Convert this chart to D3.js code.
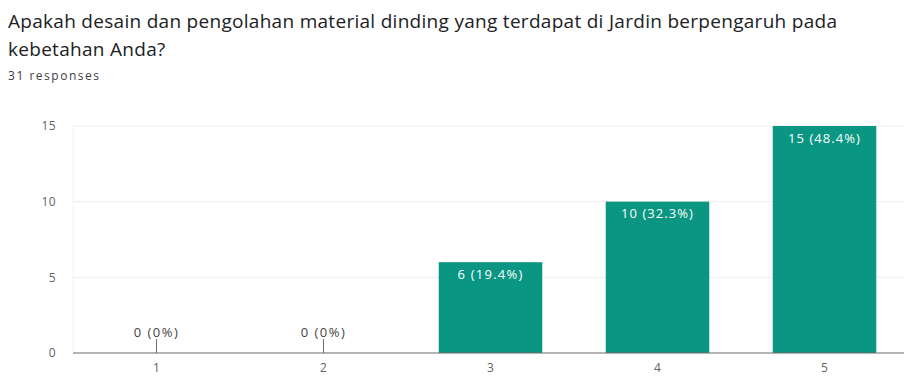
<!DOCTYPE html>
<html>
<head>
<meta charset="utf-8">
<script src="https://cdn.jsdelivr.net/npm/d3@7"></script>
<style>
  html, body { margin: 0; padding: 0; background: #fff; }
  svg { display: block; }
</style>
</head>
<body>
<svg id="chart" width="904" height="378"></svg>
<script>
// Survey answers on a 1–5 scale
const categories = ["1", "2", "3", "4", "5"];
const counts = [0, 0, 6, 10, 15];
const totalResponses = 31;
const yTicks = [0, 5, 10, 15];

const titleLines = [
  "Apakah desain dan pengolahan material dinding yang terdapat di Jardin berpengaruh pada",
  "kebetahan Anda?"
];
const subtitle = totalResponses + " responses";

const W = 904, H = 378;
const margin = { top: 126, right: -4, bottom: 25, left: 73 };
const fontFamily = "'Open Sans', Roboto, sans-serif";

const svg = d3.select("#chart");

// Letter spacing that makes a text run fill the given width
function spreadTo(sel, width) {
  const node = sel.node();
  const n = node.getNumberOfChars();
  const w = node.getComputedTextLength();
  return Math.max(0, (width - w) / Math.max(1, n - 1));
}

// Heading
const titleText = svg.append("g").selectAll("text")
  .data(titleLines)
  .join("text")
  .attr("x", 8)
  .attr("y", (d, i) => 27.5 + i * 28)
  .attr("font-family", fontFamily)
  .attr("font-size", 19)
  .attr("fill", "#202124")
  .text(d => d);
titleText.attr("letter-spacing", spreadTo(titleText.filter((d, i) => i === 0), 829));

const sub = svg.append("text")
  .attr("x", 8)
  .attr("y", 80)
  .attr("font-family", fontFamily)
  .attr("font-size", 12)
  .attr("fill", "#3c4043")
  .text(subtitle);
sub.attr("letter-spacing", spreadTo(sub, 91));

const x = d3.scaleBand()
  .domain(categories)
  .range([margin.left, W - margin.right])
  .paddingInner(0.38)
  .paddingOuter(0.19);

const y = d3.scaleLinear()
  .domain([0, 15])
  .range([H - margin.bottom, margin.top]);

// Horizontal gridlines
svg.append("g")
  .selectAll("line")
  .data(yTicks.filter(t => t > 0))
  .join("line")
  .attr("x1", margin.left)
  .attr("x2", W)
  .attr("y1", d => y(d))
  .attr("y2", d => y(d))
  .attr("stroke", "#ececec")
  .attr("stroke-width", 1);

// Faint left edge of the plot area
svg.append("line")
  .attr("x1", margin.left).attr("x2", margin.left)
  .attr("y1", y(15)).attr("y2", y(0))
  .attr("stroke", "#f2f2f2");

// Y axis labels
const yAxis = d3.axisLeft(y).tickValues(yTicks).tickSize(0).tickPadding(17);
const gy = svg.append("g")
  .attr("transform", `translate(${margin.left},0)`)
  .call(yAxis);
gy.select(".domain").remove();
gy.selectAll("text")
  .attr("font-family", fontFamily)
  .attr("font-size", 12)
  .attr("letter-spacing", 0.4)
  .attr("fill", "#5f6368");

// Bars
svg.append("g")
  .selectAll("rect")
  .data(categories.map((c, i) => ({ c, v: counts[i] })))
  .join("rect")
  .attr("x", d => x(d.c))
  .attr("width", x.bandwidth())
  .attr("y", d => y(d.v))
  .attr("height", d => y(0) - y(d.v))
  .attr("fill", "#0a9683");

// Baseline
svg.append("line")
  .attr("x1", margin.left).attr("x2", W)
  .attr("y1", y(0)).attr("y2", y(0))
  .attr("stroke", "#6b6b6b")
  .attr("stroke-width", 1.2);

// X axis labels
const xAxis = d3.axisBottom(x).tickSize(0).tickPadding(10);
const gx = svg.append("g")
  .attr("transform", `translate(0,${y(0)})`)
  .call(xAxis);
gx.select(".domain").remove();
gx.selectAll("text")
  .attr("font-family", fontFamily)
  .attr("font-size", 12)
  .attr("fill", "#5f6368");

// Value labels: inside the bar top, or above a stub for empty answers
const fmtPct = v => {
  const p = v / totalResponses * 100;
  return (v === 0 ? "0" : p.toFixed(1)) + "%";
};
const labels = svg.append("g");
categories.forEach((c, i) => {
  const v = counts[i];
  const cx = x(c) + x.bandwidth() / 2;
  const txt = `${v} (${fmtPct(v)})`;
  if (v === 0) {
    labels.append("line")
      .attr("x1", cx).attr("x2", cx)
      .attr("y1", y(0) - 14).attr("y2", y(0))
      .attr("stroke", "#6b6b6b");
    const t = labels.append("text")
      .attr("x", cx).attr("y", y(0) - 16)
      .attr("text-anchor", "middle")
      .attr("font-family", fontFamily)
      .attr("font-size", 13)
      .attr("fill", "#444")
      .text(txt);
    t.attr("letter-spacing", spreadTo(t, 44));
  } else {
    const t = labels.append("text")
      .attr("x", cx).attr("y", y(v) + 16.5)
      .attr("text-anchor", "middle")
      .attr("font-family", fontFamily)
      .attr("font-size", 13)
      .attr("fill", "#ffffff")
      .text(txt);
    t.attr("letter-spacing", spreadTo(t, v >= 10 ? 72 : 65));
  }
});
</script>
</body>
</html>
